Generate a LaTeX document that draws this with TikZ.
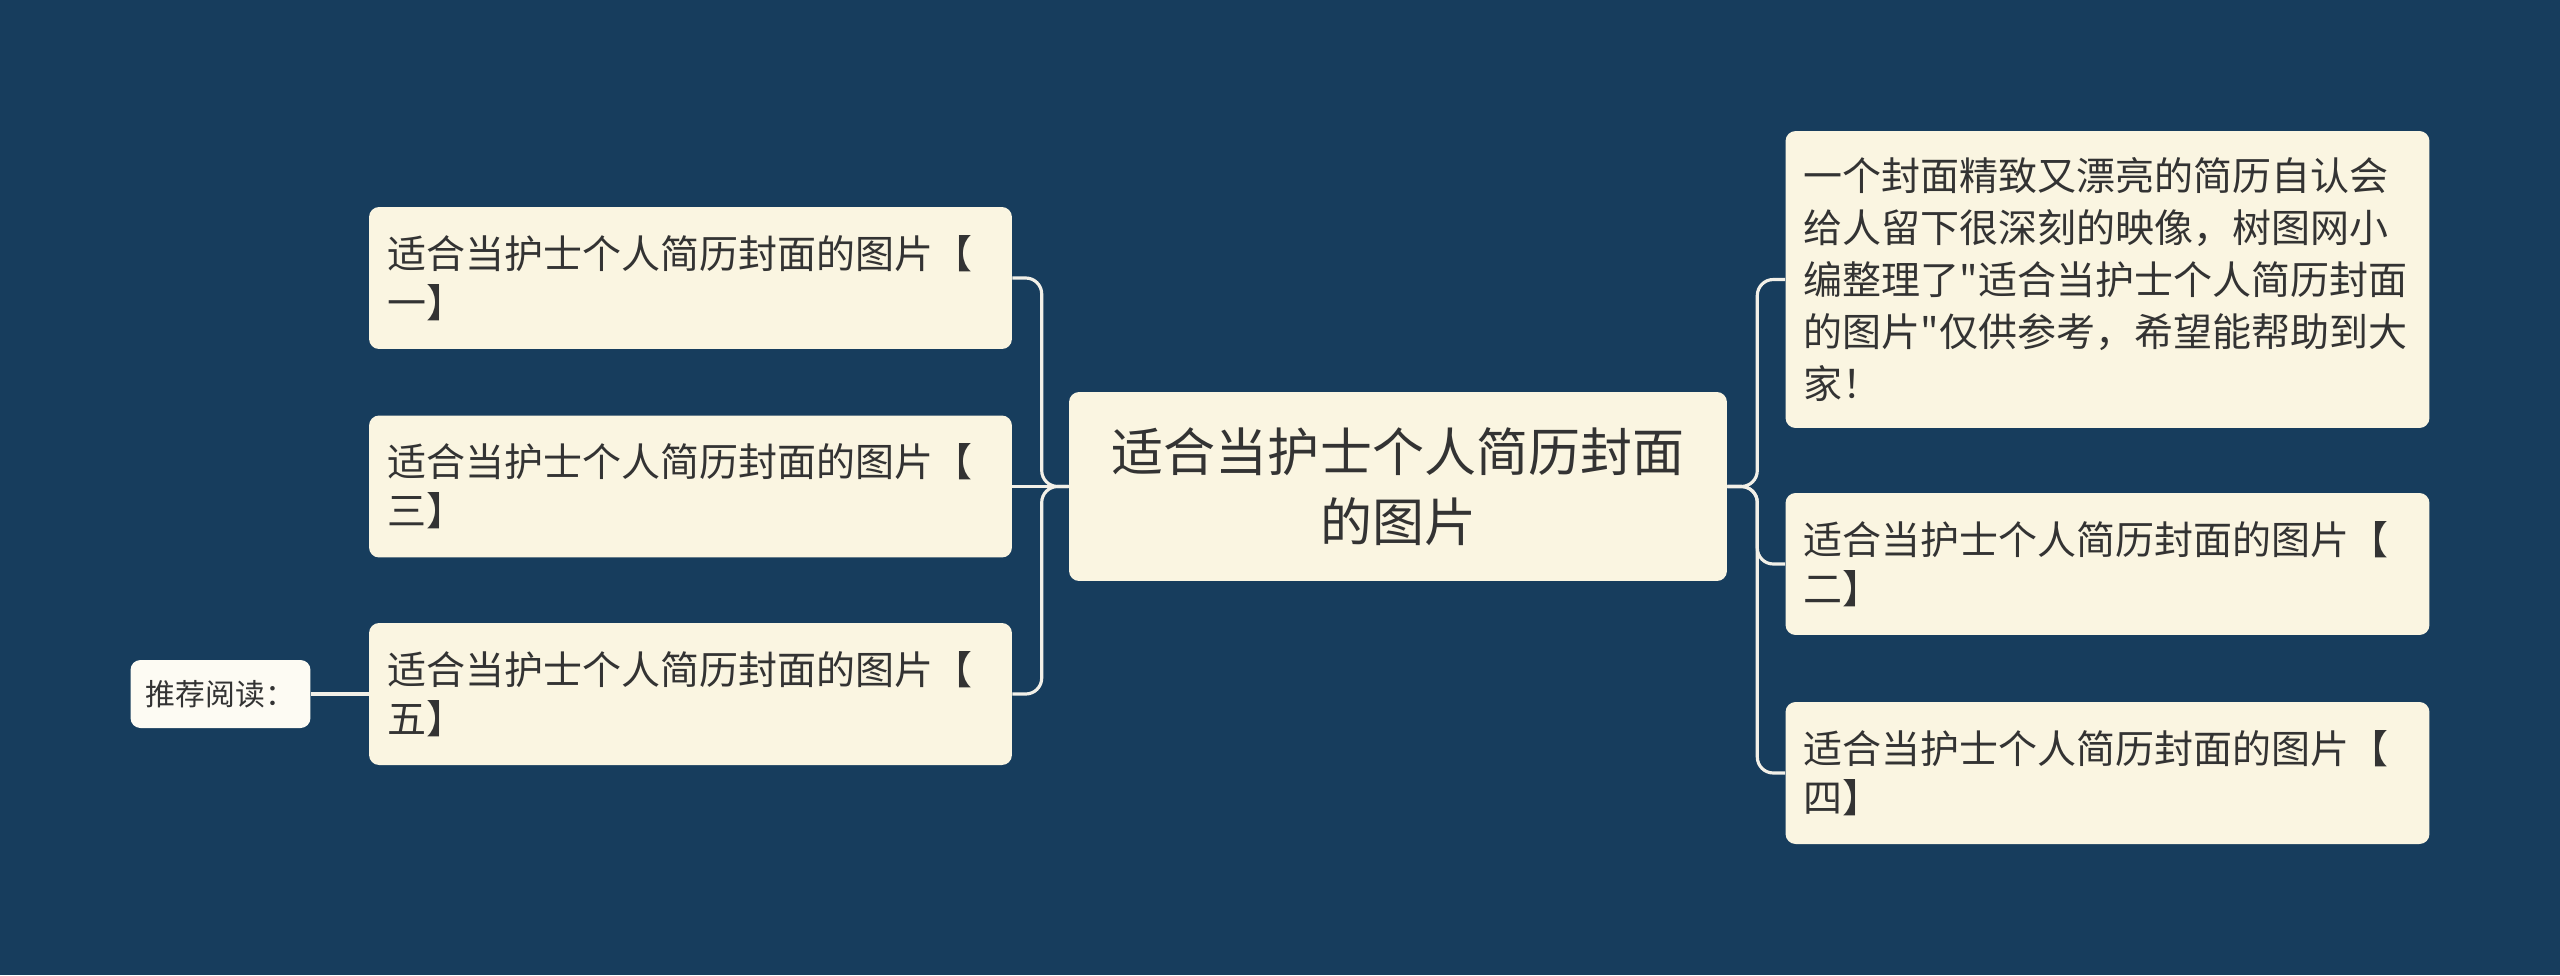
\documentclass[tikz,border=0pt]{standalone}
\usepackage{fontspec}
\newfontfamily\cjk{Noto Sans CJK SC}
\usepackage{tikz}
\usepackage{xcolor}
\definecolor{navy}{RGB}{23,61,93}
\definecolor{cream}{RGB}{250,245,225}
\definecolor{ink}{RGB}{51,51,51}
\definecolor{wire}{RGB}{242,240,232}

\begin{document}
\begin{tikzpicture}[x=0.02cm, y=-0.02cm,
  topic/.style={fill=cream, rounded corners=0.2cm, text=ink, align=left,
    inner xsep=0.36cm, inner ysep=0pt, text width=12.14cm, minimum height=2.84cm,
    font=\cjk\fontsize{22.2pt}{28pt}\selectfont},
  rootbox/.style={topic, align=center, text width=12.56cm, inner xsep=0.3cm,
    minimum height=3.78cm, font=\cjk\fontsize{29.6pt}{40pt}\selectfont},
  smallbox/.style={fill=white!60!cream, rounded corners=0.2cm, text=ink,
    inner xsep=0.3cm, minimum width=3.6cm, minimum height=1.36cm,
    font=\cjk\fontsize{17pt}{20pt}\selectfont},
  link/.style={draw=wire, line width=1.8pt, rounded corners=0.32cm}]

  \useasboundingbox (0,0) rectangle (2560,975);
  \fill[navy] (0,0) rectangle (2560,975);

  % centre
  \node[rootbox] (root) at (1398,486.5) {适合当护士个人简历封面\\的图片};

  % left side
  \node[topic] (l1) at (690.5,278) {适合当护士个人简历封面的图片【\\一】};
  \node[topic] (l2) at (690.5,486.5) {适合当护士个人简历封面的图片【\\三】};
  \node[topic] (l3) at (690.5,694) {适合当护士个人简历封面的图片【\\五】};
  \node[smallbox] (rec) at (220.5,694) {推荐阅读：};

  % right side
  \node[topic, text width=12.16cm, minimum height=5.94cm,
    font=\cjk\fontsize{22.2pt}{29.5pt}\selectfont] (r1) at (2107.5,279.5)
    {一个封面精致又漂亮的简历自认会\\给人留下很深刻的映像，树图网小\\编整理了"适合当护士个人简历封面\\的图片"仅供参考，希望能帮助到大\\家！};
  \node[topic, text width=12.16cm] (r2) at (2107.5,564) {适合当护士个人简历封面的图片【\\二】};
  \node[topic, text width=12.16cm] (r3) at (2107.5,773) {适合当护士个人简历封面的图片【\\四】};

  % links
  \draw[link] (root.west) -- ++(-27,0) |- (l1.east);
  \draw[link] (root.west) -- (l2.east);
  \draw[link] (root.west) -- ++(-27,0) |- (l3.east);
  \draw[link] (rec.east) -- (l3.west);

  \draw[link] (root.east) -- ++(30,0) |- (r1.west);
  \draw[link] (root.east) -- ++(30,0) |- (r2.west);
  \draw[link] (root.east) -- ++(30,0) |- (r3.west);
\end{tikzpicture}
\end{document}
